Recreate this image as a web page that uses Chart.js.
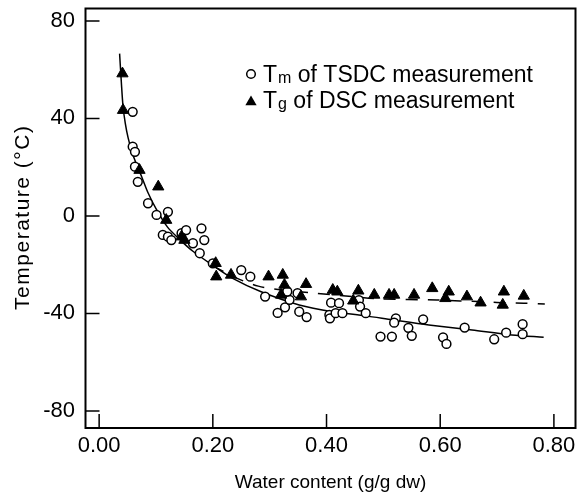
<!DOCTYPE html>
<html>
<head>
<meta charset="utf-8">
<script src="https://cdn.jsdelivr.net/npm/chart.js@4.4.1/dist/chart.umd.min.js"></script>
<style>
  html, body { margin: 0; padding: 0; background: #fff; }
</style>
</head>
<body>
<canvas id="chart" width="583" height="496"></canvas>
<script>
// Tm of TSDC measurement (open circles)
const tmWater = [0.059, 0.059, 0.063, 0.063, 0.068, 0.086, 0.101, 0.121, 0.112, 0.121,
                 0.127, 0.145, 0.153, 0.180, 0.185, 0.165, 0.177, 0.200, 0.250, 0.266,
                 0.292, 0.314, 0.327, 0.335, 0.331, 0.352, 0.365, 0.349, 0.408, 0.422,
                 0.405, 0.406, 0.416, 0.428, 0.457, 0.459, 0.469, 0.495, 0.515, 0.522,
                 0.519, 0.544, 0.550, 0.570, 0.605, 0.611, 0.643, 0.695, 0.716, 0.745, 0.745];
const tmTemp = [42.7, 28.4, 26.3, 20.2, 14.0, 5.2, 0.4, 1.7, -7.8, -8.5,
                -9.9, -7.1, -5.8, -5.1, -9.9, -11.2, -15.3, -19.5, -22.2, -24.9,
                -33.1, -39.8, -37.5, -34.4, -31.0, -39.3, -41.5, -31.7, -35.6, -35.8,
                -40.6, -42.0, -39.9, -39.9, -34.5, -37.2, -39.9, -49.5, -49.5, -42.0,
                -43.8, -45.9, -49.2, -42.4, -49.8, -52.5, -45.8, -50.6, -47.9, -44.4, -48.5];

// Tg of DSC measurement (filled triangles)
const tgWater = [0.041, 0.042, 0.071, 0.104, 0.118, 0.145, 0.150, 0.205, 0.206, 0.232,
                 0.298, 0.323, 0.326, 0.320, 0.355, 0.364, 0.411, 0.419, 0.447, 0.456,
                 0.484, 0.510, 0.519, 0.554, 0.586, 0.615, 0.609, 0.647, 0.671, 0.712,
                 0.710, 0.747];
const tgTemp = [58.4, 43.4, 18.8, 12.0, -1.7, -8.5, -9.9, -19.4, -24.9, -24.2,
                -24.9, -24.2, -28.3, -32.4, -33.1, -28.0, -30.4, -31.1, -34.8, -30.7,
                -32.4, -32.4, -32.4, -32.4, -29.7, -31.1, -33.8, -33.1, -35.6, -31.1,
                -36.5, -32.8];

// fitted curves
const fitWater = [0.036, 0.039, 0.042, 0.046, 0.051, 0.058, 0.066, 0.075, 0.086, 0.100,
                  0.120, 0.141, 0.165, 0.197, 0.235, 0.285, 0.352, 0.411, 0.469, 0.516,
                  0.580, 0.656, 0.726, 0.782];
const fitTemp = [66.6, 55, 45, 38, 32, 26, 21, 16, 9.5, 3,
                 -4.5, -9.5, -14.5, -19.8, -25.6, -31.1, -36.5, -39.3, -41.0, -42.6,
                 -44.7, -46.8, -48.8, -49.8];
const dashWater = [0.200, 0.240, 0.280, 0.330, 0.384, 0.445, 0.492, 0.594, 0.635, 0.677, 0.712, 0.747, 0.784];
const dashTemp = [-20.5, -25.3, -28.8, -30.6, -31.8, -33.1, -34.0, -34.5, -34.9, -35.2, -35.6, -35.8, -36.1];

const xTicks = [0, 0.2, 0.4, 0.6, 0.8];
const yTicks = [-80, -40, 0, 40, 80];

const pts = (xs, ys) => xs.map((v, i) => ({x: v, y: ys[i]}));

const FONT = '"Liberation Sans", Arial, sans-serif';
Chart.defaults.font.family = FONT;
Chart.defaults.color = '#000';

// box round the plot, short inward ticks, y title
const frameTicks = {
    id: 'frameTicks',
    afterDatasetsDraw(chart) {
        const {ctx, chartArea: a, scales: {x, y}} = chart;
        ctx.save();
        ctx.strokeStyle = '#000';
        ctx.lineWidth = 2;
        ctx.strokeRect(a.left, a.top, a.right - a.left, a.bottom - a.top);
        ctx.lineWidth = 1.5;
        ctx.beginPath();
        xTicks.forEach(v => {
            const px = x.getPixelForValue(v);
            ctx.moveTo(px, a.bottom);
            ctx.lineTo(px, a.bottom - 14);
        });
        yTicks.forEach(v => {
            const py = y.getPixelForValue(v);
            ctx.moveTo(a.left, py);
            ctx.lineTo(a.left + 14, py);
        });
        ctx.stroke();

        ctx.translate(23, (a.top + a.bottom) / 2);
        ctx.rotate(-Math.PI / 2);
        ctx.fillStyle = '#000';
        ctx.font = '21px ' + FONT;
        ctx.letterSpacing = '1.5px';
        ctx.textAlign = 'center';
        ctx.textBaseline = 'middle';
        ctx.fillText('Temperature (°C)', 1, 0);
        ctx.restore();
    }
};

// legend with subscripts (Tm, Tg)
const subLegend = {
    id: 'subLegend',
    afterDraw(chart) {
        const ctx = chart.ctx;
        ctx.save();
        ctx.fillStyle = '#000';
        ctx.strokeStyle = '#000';
        ctx.lineWidth = 1.5;
        ctx.beginPath();
        ctx.arc(251, 74, 4.3, 0, Math.PI * 2);
        ctx.stroke();
        const r = 6.5, tx = 251, ty = 102;
        ctx.beginPath();
        ctx.moveTo(tx, ty - r);
        ctx.lineTo(tx + r * 0.866, ty + r / 2);
        ctx.lineTo(tx - r * 0.866, ty + r / 2);
        ctx.closePath();
        ctx.fill();

        const big = '23px ' + FONT, small = '16px ' + FONT;
        const row = (x, y, sub, rest) => {
            ctx.textBaseline = 'alphabetic';
            ctx.font = big;
            ctx.fillText('T', x, y);
            x += ctx.measureText('T').width + 1;
            ctx.font = small;
            ctx.fillText(sub, x, y + 1);
            x += ctx.measureText(sub).width;
            ctx.font = big;
            ctx.fillText(rest, x, y);
        };
        row(263, 82, 'm', ' of TSDC measurement');
        row(263, 108, 'g', ' of DSC measurement');
        ctx.restore();
    }
};

new Chart(document.getElementById('chart'), {
    type: 'scatter',
    data: {
        datasets: [
            {
                label: 'Tm of TSDC measurement',
                data: pts(tmWater, tmTemp),
                pointStyle: 'circle',
                pointRadius: 4.4,
                borderWidth: 1.5,
                borderColor: '#000',
                backgroundColor: '#fff',
                order: 2
            },
            {
                label: 'Tg of DSC measurement',
                data: pts(tgWater, tgTemp),
                pointStyle: 'triangle',
                pointRadius: 6.5,
                borderWidth: 1,
                borderColor: '#000',
                backgroundColor: '#000',
                order: 1
            },
            {
                label: 'Tm fit',
                data: pts(fitWater, fitTemp),
                showLine: true,
                pointRadius: 0,
                borderColor: '#000',
                borderWidth: 1.5,
                tension: 0.3,
                order: 3
            },
            {
                label: 'Tg fit',
                data: pts(dashWater, dashTemp),
                showLine: true,
                pointRadius: 0,
                borderColor: '#000',
                borderWidth: 1.5,
                borderDash: [12, 10],
                tension: 0.3,
                order: 3
            }
        ]
    },
    options: {
        responsive: false,
        animation: false,
        layout: { padding: { left: 0, top: 8.5, right: 6, bottom: 0 } },
        plugins: {
            legend: { display: false },
            tooltip: { enabled: false }
        },
        scales: {
            x: {
                type: 'linear',
                min: -0.024,
                max: 0.838,
                afterBuildTicks: s => { s.ticks = xTicks.map(v => ({value: v})); },
                afterFit: s => { s.height = 68; s.paddingLeft = 0; s.paddingRight = 0; },
                grid: { display: false, drawTicks: false },
                border: { display: false },
                ticks: {
                    padding: 5,
                    maxRotation: 0,
                    font: { size: 22 },
                    callback: v => v.toFixed(2)
                },
                title: {
                    display: true,
                    text: 'Water content (g/g dw)',
                    font: { size: 19 },
                    padding: { top: 0, bottom: 2 }
                }
            },
            y: {
                type: 'linear',
                min: -87,
                max: 85.1,
                afterBuildTicks: s => { s.ticks = yTicks.map(v => ({value: v})); },
                afterFit: s => { s.width = 85.5; s.paddingTop = 0; s.paddingBottom = 0; },
                grid: { display: false, drawTicks: false },
                border: { display: false },
                ticks: {
                    padding: 10.5,
                    font: { size: 22 }
                },
                title: { display: false }
            }
        }
    },
    plugins: [frameTicks, subLegend]
});
</script>
</body>
</html>
